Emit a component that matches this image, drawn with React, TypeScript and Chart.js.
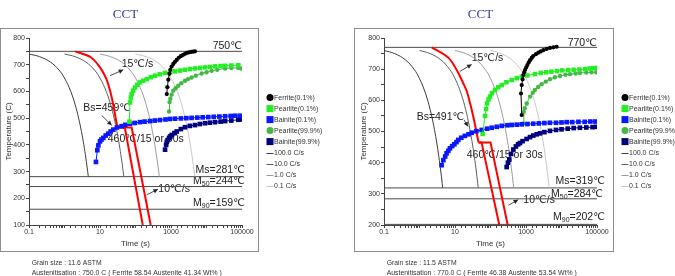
import React, { useEffect, useRef } from 'react';
import { Chart, registerables } from 'chart.js';

Chart.register(...registerables);

const FONT = "'Liberation Sans', Arial, 'DejaVu Sans', sans-serif";
const SERIF = "'Liberation Serif', 'Times New Roman', 'DejaVu Serif', serif";

// ---------------- shared labels ----------------
const TITLE = 'CCT';
const X_TITLE = 'Time (s)';
const Y_TITLE = 'Temperature (C)';
const X_TICK_LABELS = [0.1, 10, 1000, 100000];
const LEGEND_LABELS = ['Ferrite(0.1%)', 'Pearlite(0.1%)', 'Bainite(0.1%)', 'Pearlite(99.9%)', 'Bainite(99.9%)', '100.0 C/s', '10.0 C/s', '1.0 C/s', '0.1 C/s'];

// ---------------- LEFT panel (750 °C) ----------------
const L_Y_RANGE = [100, 800];
const L_AUST = 750;
const L_MS = 281;
const L_M50 = 244;
const L_M90 = 159;
const L_COOL_T = [740, 730, 710, 680, 650, 600, 550, 500, 450, 400, 350, 300, 281];
const L_COOL_100 = [0.1, 0.2, 0.4, 0.7, 1.0, 1.5, 2.0, 2.5, 3.0, 3.5, 4.0, 4.5, 4.69];
const L_COOL_10 = [1, 2, 4, 7, 10, 15, 20, 25, 30, 35, 40, 45, 46.9];
const L_COOL_1 = [10, 20, 40, 70, 100, 150, 200, 250, 300, 350, 400, 450, 469];
const L_COOL_01 = [100, 200, 400, 700, 1000, 1500, 2000, 2500, 3000, 3500, 4000, 4500, 4690];
const L_RED_t = [2, 5.5, 10, 15, 19, 22, 26, 29.5, 32.5];
const L_RED_T = [750, 728, 690, 648, 605, 570, 520, 480, 465];
const L_RED_A_t = [32.5, 50, 160];
const L_RED_A_T = [465, 465, 100];
const L_RED_B_t = [32.5, 78, 268];
const L_RED_B_T = [465, 465, 100];
const L_FER_t = [760, 790, 840, 900, 960, 1040, 1160, 1300, 1450, 1650, 1900, 2200, 2500, 2800, 3200, 3700, 4200, 4740];
const L_FER_T = [590, 616, 644, 666, 681, 693, 703, 711, 718, 726, 732, 737, 741, 744, 746, 748, 749, 750];
const L_PER01_t = [67, 70, 74, 78, 86, 97, 112, 134, 165, 207, 270, 355, 480, 678, 950, 1300, 1800, 2460, 3400, 4740, 6500, 9100, 12500, 17500, 25000, 33500, 50000, 78700];
const L_PER01_T = [487, 559, 577, 590, 603, 615, 625, 634, 640, 646, 653, 659, 664, 669, 672, 675, 678, 681, 684, 686, 688, 690, 692, 694, 695, 696, 697, 698];
const L_BAI01_t = [7.7, 8.4, 9.0, 10, 11, 12.4, 14.5, 17.1, 20, 23.7, 30, 40.6, 52, 70, 95, 134, 180, 257, 350, 490, 700, 935, 1300, 1900, 2700, 3800, 5500, 7800, 11200, 16000, 23000, 33400, 48000, 65000, 90000];
const L_BAI01_T = [336, 380, 398, 413, 420, 426, 435, 442, 450, 457, 465, 470, 475, 479, 482, 485, 487, 489, 491, 493, 495, 497, 498, 499, 500, 501, 502, 503, 504, 505, 506, 507, 508, 509, 509];
const L_PER999_t = [880, 910, 960, 1040, 1160, 1350, 1600, 1950, 2480, 3000, 3800, 5000, 7300, 10000, 14000, 20000, 33500, 50000, 78700, 95000];
const L_PER999_T = [525, 560, 573, 588, 603, 612, 621, 631, 640, 646, 652, 659, 667, 672, 677, 681, 686, 688, 688, 686];
const L_BAI999_t = [680, 730, 760, 806, 880, 960, 1050, 1250, 1450, 1900, 2480, 3400, 4740, 6500, 9080, 12500, 17400, 25000, 33400, 50000, 78700, 95000];
const L_BAI999_T = [382, 400, 411, 418, 425, 431, 437, 444, 450, 459, 466, 471, 474, 478, 481, 483, 485, 487, 489, 491, 494, 495];
const L_NOTES = ['Grain size : 11.6 ASTM', 'Austenitisation : 750.0 C ( Ferrite 58.54 Austenite 41.34 Wt% )'];

// ---------------- RIGHT panel (770 °C) ----------------
const R_Y_RANGE = [200, 800];
const R_AUST = 770;
const R_MS = 319;
const R_M50 = 284;
const R_M90 = 202;
const R_COOL_T = [760, 750, 730, 700, 670, 620, 570, 520, 470, 420, 370, 319];
const R_COOL_100 = [0.1, 0.2, 0.4, 0.7, 1, 1.5, 2, 2.5, 3, 3.5, 4, 4.51];
const R_COOL_10 = [1, 2, 4, 7, 10, 15, 20, 25, 30, 35, 40, 45.1];
const R_COOL_1 = [10, 20, 40, 70, 100, 150, 200, 250, 300, 350, 400, 451];
const R_COOL_01 = [100, 200, 400, 700, 1000, 1500, 2000, 2500, 3000, 3500, 4000, 4510];
const R_RED_t = [2.2, 6.5, 12.4, 17, 21.4, 26.4, 32.7, 40, 46];
const R_RED_T = [770, 737, 688, 655, 630, 592, 548, 500, 465];
const R_RED_A_t = [46, 56, 177];
const R_RED_A_T = [465, 465, 200];
const R_RED_B_t = [46, 100, 305];
const R_RED_B_T = [465, 465, 200];
const R_FER_t = [757, 723, 757, 800, 840, 890, 937, 1010, 1090, 1190, 1300, 1450, 1600, 1900, 2220, 2600, 3070, 3800, 4740, 5900, 7300];
const R_FER_T = [553, 622, 649, 667, 681, 690, 697, 705, 713, 721, 729, 736, 742, 748, 753, 757, 761, 765, 768, 770, 772];
const R_PER01_t = [60, 70, 75, 80, 88, 97, 110, 134, 165, 207, 280, 396, 550, 760, 1100, 1780, 2600, 3700, 5200, 7500, 10500, 15500, 22000, 32000, 46000, 62000, 79000, 95000];
const R_PER01_T = [492, 550, 572, 590, 603, 612, 623, 633, 642, 649, 658, 665, 671, 676, 680, 684, 688, 690, 692, 694, 696, 697, 698, 699, 700, 702, 703, 704];
const R_BAI01_t = [4.2, 4.7, 5.3, 5.8, 6.5, 7.2, 8.3, 9.6, 11, 12.4, 15, 19, 24, 29.5, 40, 56.5, 80, 108, 150, 207, 300, 396, 550, 757, 1100, 1600, 2300, 3300, 4700, 7000, 10000, 14000, 20000, 30000, 45000, 65000, 90000];
const R_BAI01_T = [392, 408, 420, 430, 438, 446, 453, 459, 466, 473, 480, 486, 491, 496, 501, 505, 509, 512, 515, 518, 520, 521, 522, 523, 524, 525, 526, 527, 528, 528, 529, 530, 530, 531, 531, 532, 532];
const R_PER999_t = [840, 870, 920, 1050, 1300, 1550, 1780, 2200, 2750, 3600, 4740, 6500, 9080, 13000, 17400, 25000, 33200, 50000, 70000, 95000];
const R_PER999_T = [526, 563, 575, 590, 612, 624, 633, 643, 652, 660, 668, 674, 678, 682, 684, 686, 688, 689, 690, 690];
const R_BAI999_t = [285, 310, 339, 380, 440, 520, 600, 677, 800, 1040, 1300, 1600, 2000, 2480, 3300, 4740, 7000, 10000, 15000, 22000, 33000, 50000, 75000, 95000];
const R_BAI999_T = [386, 400, 410, 428, 442, 452, 459, 463, 469, 476, 482, 487, 491, 494, 498, 502, 505, 507, 509, 511, 512, 513, 514, 515];
const R_NOTES = ['Grain size : 11.5 ASTM', 'Austenitisation : 770.0 C ( Ferrite 46.38 Austenite 53.54 Wt% )'];

// ---------------- styles ----------------
const C = {
  ferrite: '#000000',
  per01: '#22ee22',
  bai01: '#0a18ff',
  per999: '#44b844',
  bai999: '#00007f',
  c100: '#3c3c3c',
  c10: '#5e5e5e',
  c1: '#9c9c9c',
  c01: '#c8c8c8',
  red: '#ff0000',
  hline: '#4a4a4a',
  axis: '#444444',
  text: '#222222',
};

type Part = { s: string; sub?: boolean };
type Ann = { parts: Part[]; t: number; T: number; align?: 'left' | 'right'; dx?: number; arrow?: [number, number, number, number] };

const pts = (ts: number[], Ts: number[]) => ts.map((t, i) => ({ x: t, y: Ts[i] }));
const hl = (T: number) => [{ x: 0.1, y: T }, { x: 100000, y: T }];

interface PanelSpec {
  yRange: number[];
  aust: number; ms: number; m50: number; m90: number;
  coolT: number[]; cool: number[][];
  redT: number[]; redt: number[]; redAt: number[]; redAT: number[]; redBt: number[]; redBT: number[];
  fer: [number[], number[]]; per01: [number[], number[]]; bai01: [number[], number[]]; per999: [number[], number[]]; bai999: [number[], number[]];
  notes: string[];
  anns: Ann[];
  yAxisW: number; areaRight: number; boxLeft: number;
}

const fmtT = (v: number) => `${v}℃`;

const LEFT: PanelSpec = {
  yRange: L_Y_RANGE, aust: L_AUST, ms: L_MS, m50: L_M50, m90: L_M90,
  coolT: L_COOL_T, cool: [L_COOL_100, L_COOL_10, L_COOL_1, L_COOL_01],
  redT: L_RED_T, redt: L_RED_t, redAt: L_RED_A_t, redAT: L_RED_A_T, redBt: L_RED_B_t, redBT: L_RED_B_T,
  fer: [L_FER_t, L_FER_T], per01: [L_PER01_t, L_PER01_T], bai01: [L_BAI01_t, L_BAI01_T], per999: [L_PER999_t, L_PER999_T], bai999: [L_BAI999_t, L_BAI999_T],
  notes: L_NOTES,
  anns: [
    { parts: [{ s: fmtT(L_AUST) }], t: 100000, T: 770, align: 'right', dx: 0 },
    { parts: [{ s: '15℃/s' }], t: 40.8, T: 702, arrow: [19.1, 659, 45.3, 681] },
    { parts: [{ s: 'Bs=459℃' }], t: 3.39, T: 539, arrow: [11.2, 510, 21.4, 473] },
    { parts: [{ s: '460℃/15 or 30s' }], t: 16.5, T: 423 },
    { parts: [{ s: '10℃/s' }], t: 439, T: 235, arrow: [207, 213, 430, 234] },
    { parts: [{ s: 'Ms=' + fmtT(L_MS) }], t: 100000, T: 306, align: 'right', dx: 3 },
    { parts: [{ s: 'M' }, { s: '50', sub: true }, { s: '=' + fmtT(L_M50) }], t: 100000, T: 264, align: 'right', dx: 3 },
    { parts: [{ s: 'M' }, { s: '90', sub: true }, { s: '=' + fmtT(L_M90) }], t: 100000, T: 182, align: 'right', dx: 3 },
  ],
  yAxisW: 29, areaRight: 242, boxLeft: 29,
};

const RIGHT: PanelSpec = {
  yRange: R_Y_RANGE, aust: R_AUST, ms: R_MS, m50: R_M50, m90: R_M90,
  coolT: R_COOL_T, cool: [R_COOL_100, R_COOL_10, R_COOL_1, R_COOL_01],
  redT: R_RED_T, redt: R_RED_t, redAt: R_RED_A_t, redAT: R_RED_A_T, redBt: R_RED_B_t, redBT: R_RED_B_T,
  fer: [R_FER_t, R_FER_T], per01: [R_PER01_t, R_PER01_T], bai01: [R_BAI01_t, R_BAI01_T], per999: [R_PER999_t, R_PER999_T], bai999: [R_BAI999_t, R_BAI999_T],
  notes: R_NOTES,
  anns: [
    { parts: [{ s: fmtT(R_AUST) }], t: 100000, T: 784, align: 'right', dx: 0 },
    { parts: [{ s: '15℃/s' }], t: 29.5, T: 737, arrow: [13.8, 693, 29.5, 715] },
    { parts: [{ s: 'Bs=491℃' }], t: 0.83, T: 545, arrow: [18, 537, 23.2, 516] },
    { parts: [{ s: '460℃/15 or 30s' }], t: 21.4, T: 425 },
    { parts: [{ s: '10℃/s' }], t: 840, T: 281, arrow: [316, 263, 600, 281] },
    { parts: [{ s: 'Ms=' + fmtT(R_MS) }], t: 100000, T: 340, align: 'right', dx: 8 },
    { parts: [{ s: 'M' }, { s: '50', sub: true }, { s: '=' + fmtT(R_M50) }], t: 100000, T: 300, align: 'right', dx: 6 },
    { parts: [{ s: 'M' }, { s: '90', sub: true }, { s: '=' + fmtT(R_M90) }], t: 100000, T: 225, align: 'right', dx: 8 },
  ],
  yAxisW: 44, areaRight: 257, boxLeft: 30,
};

function drawRich(ctx: CanvasRenderingContext2D, parts: Part[], x: number, y: number, align: 'left' | 'right') {
  const fontOf = (p: Part) => `${p.sub ? 7 : 10.5}px ${FONT}`;
  let total = 0;
  for (const p of parts) { ctx.font = fontOf(p); total += ctx.measureText(p.s).width; }
  let cx = align === 'right' ? x - total : x;
  ctx.textAlign = 'left';
  ctx.textBaseline = 'middle';
  for (const p of parts) {
    ctx.font = fontOf(p);
    ctx.fillText(p.s, cx, p.sub ? y + 3 : y);
    cx += ctx.measureText(p.s).width;
  }
}

function makePlugin(p: PanelSpec) {
  return {
    id: 'cctDecor',
    beforeDraw(chart: any) {
      const { ctx, chartArea: a } = chart;
      ctx.save();
      ctx.fillStyle = '#ffffff';
      ctx.fillRect(0, 0, chart.width, chart.height);
      // frame
      ctx.strokeStyle = '#8c8c8c';
      ctx.lineWidth = 1;
      const x0 = Math.round(a.left - p.boxLeft) + 0.5;
      const y0 = Math.round(a.top - 10) + 0.5;
      const x1 = Math.round(a.right + 16) + 0.5;
      const y1 = Math.round(a.bottom + 26) + 0.5;
      ctx.strokeRect(x0, y0, x1 - x0, y1 - y0);
      // title
      ctx.fillStyle = '#3838a8';
      ctx.font = `13px ${SERIF}`;
      ctx.textAlign = 'center';
      ctx.textBaseline = 'middle';
      ctx.fillText(TITLE, a.left + 96.5, a.top - 23);
      // notes
      ctx.fillStyle = '#333333';
      ctx.font = `7px ${FONT}`;
      ctx.textAlign = 'left';
      p.notes.forEach((n, i) => ctx.fillText(n, a.left + 2.7, a.bottom + 37.7 + i * 10, i === 1 ? 190 : 70));
      // axis titles
      ctx.font = `8px ${FONT}`;
      ctx.textAlign = 'center';
      ctx.fillText(X_TITLE, (a.left + a.right) / 2, a.bottom + 18.3);
      ctx.save();
      ctx.translate(a.left - 20.7, (a.top + a.bottom) / 2);
      ctx.rotate(-Math.PI / 2);
      ctx.fillText(Y_TITLE, 0, 0);
      ctx.restore();
      ctx.restore();
    },
    beforeDatasetsDraw(chart: any) {
      const { ctx } = chart;
      const xs = chart.scales.x;
      const ys = chart.scales.y;
      ctx.save();
      ctx.fillStyle = C.text;
      ctx.strokeStyle = C.text;
      for (const an of p.anns) {
        const x = xs.getPixelForValue(an.t) + (an.dx || 0);
        const y = ys.getPixelForValue(an.T);
        drawRich(ctx, an.parts, x, y, an.align || 'left');
        if (an.arrow) {
          const ax0 = xs.getPixelForValue(an.arrow[0]);
          const ay0 = ys.getPixelForValue(an.arrow[1]);
          const ax1 = xs.getPixelForValue(an.arrow[2]);
          const ay1 = ys.getPixelForValue(an.arrow[3]);
          ctx.lineWidth = 0.8;
          ctx.beginPath();
          ctx.moveTo(ax0, ay0);
          ctx.lineTo(ax1, ay1);
          ctx.stroke();
          const ang = Math.atan2(ay1 - ay0, ax1 - ax0);
          const L = 4.5, W = 2.3;
          ctx.beginPath();
          ctx.moveTo(ax1, ay1);
          ctx.lineTo(ax1 - L * Math.cos(ang) + W * Math.sin(ang), ay1 - L * Math.sin(ang) - W * Math.cos(ang));
          ctx.lineTo(ax1 - L * Math.cos(ang) - W * Math.sin(ang), ay1 - L * Math.sin(ang) + W * Math.cos(ang));
          ctx.closePath();
          ctx.fill();
        }
      }
      ctx.restore();
    },
    afterDraw(chart: any) {
      const { ctx, chartArea: a } = chart;
      const items = chart.data.datasets.filter((d: any) => d.legendKind);
      ctx.save();
      ctx.font = `7px ${FONT}`;
      ctx.textAlign = 'left';
      ctx.textBaseline = 'middle';
      items.forEach((d: any, i: number) => {
        const cy = a.top + 59.6 + i * 11;
        const cx = a.right + 28;
        ctx.fillStyle = d.legendColor;
        ctx.strokeStyle = d.legendColor;
        if (d.legendKind === 'circle') {
          ctx.beginPath();
          ctx.arc(cx, cy, 3.5, 0, Math.PI * 2);
          ctx.fill();
        } else if (d.legendKind === 'square') {
          ctx.fillRect(cx - 3.5, cy - 3.5, 7, 7);
        } else {
          ctx.lineWidth = 1;
          ctx.beginPath();
          ctx.moveTo(cx - 3.5, Math.round(cy) + 0.5);
          ctx.lineTo(cx + 3.5, Math.round(cy) + 0.5);
          ctx.stroke();
        }
        ctx.fillStyle = '#333333';
        ctx.fillText(d.label, a.right + 32, cy);
      });
      ctx.restore();
    },
  };
}

function buildConfig(p: PanelSpec, width: number): any {
  const marker = (label: string, data: [number[], number[]], color: string, style: string, r: number) => ({
    label, data: pts(data[0], data[1]), showLine: true, borderColor: color, backgroundColor: color,
    borderWidth: 1, pointStyle: style, pointRadius: r, pointBorderWidth: 0, pointBackgroundColor: color,
    tension: 0, legendKind: style === 'circle' ? 'circle' : 'square', legendColor: color,
  });
  const curve = (label: string, ts: number[], color: string) => ({
    label, data: pts(ts, p.coolT), showLine: true, borderColor: color, borderWidth: 1, pointRadius: 0,
    tension: 0.4, legendKind: 'line', legendColor: color,
  });
  const plain = (data: any[], color: string, w: number, tension = 0) => ({
    label: '', data, showLine: true, borderColor: color, borderWidth: w, pointRadius: 0, tension,
  });
  const datasets = [
    marker(LEGEND_LABELS[0], p.fer, C.ferrite, 'circle', 2.1),
    marker(LEGEND_LABELS[1], p.per01, C.per01, 'rect', 3.2),
    marker(LEGEND_LABELS[2], p.bai01, C.bai01, 'rect', 3.3),
    marker(LEGEND_LABELS[3], p.per999, C.per999, 'circle', 2.2),
    marker(LEGEND_LABELS[4], p.bai999, C.bai999, 'rect', 3.3),
    plain(pts(p.redt, p.redT), C.red, 2, 0.3),
    plain(pts(p.redAt, p.redAT), C.red, 2),
    plain(pts(p.redBt, p.redBT), C.red, 2),
    curve(LEGEND_LABELS[5], p.cool[0], C.c100),
    curve(LEGEND_LABELS[6], p.cool[1], C.c10),
    curve(LEGEND_LABELS[7], p.cool[2], C.c1),
    curve(LEGEND_LABELS[8], p.cool[3], C.c01),
    plain(hl(p.aust), C.hline, 1),
    plain(hl(p.ms), C.hline, 1),
    plain(hl(p.m50), C.hline, 1),
    plain(hl(p.m90), C.hline, 1),
  ];
  const tickFont = { size: 7, family: FONT };
  return {
    type: 'scatter',
    data: { datasets },
    options: {
      responsive: false,
      animation: false,
      devicePixelRatio: 1,
      events: [],
      layout: { padding: { left: 0, right: width - p.areaRight, top: 38, bottom: 276 - 225 - 12 } },
      plugins: { legend: { display: false }, tooltip: { enabled: false }, title: { display: false } },
      scales: {
        x: {
          type: 'logarithmic', min: 0.1, max: 100000,
          afterFit: (s: any) => { s.height = 12; s.paddingLeft = 0; s.paddingRight = 0; },
          grid: { drawOnChartArea: false, drawTicks: true, tickLength: 3, color: C.axis },
          border: { display: true, color: C.axis, width: 1 },
          ticks: {
            autoSkip: false, maxRotation: 0, minRotation: 0, padding: 0, font: tickFont, color: '#333333',
            callback: (v: any) => {
              const n = Number(v);
              const hit = X_TICK_LABELS.find((q) => Math.abs(Math.log10(n) - Math.log10(q)) < 1e-6);
              return hit === undefined ? '' : String(hit);
            },
          },
        },
        y: {
          type: 'linear', min: p.yRange[0], max: p.yRange[1],
          afterFit: (s: any) => { s.width = p.yAxisW; s.paddingTop = 0; s.paddingBottom = 0; },
          grid: { drawOnChartArea: false, drawTicks: true, tickLength: 3, color: C.axis },
          border: { display: true, color: C.axis, width: 1 },
          ticks: {
            stepSize: 50, padding: 1, font: tickFont, color: '#333333',
            callback: (v: any) => (Number(v) % 100 === 0 ? String(v) : ''),
          },
        },
      },
    },
    plugins: [makePlugin(p)],
  };
}

function CctChart({ panel, left, width }: { panel: PanelSpec; left: number; width: number }) {
  const ref = useRef<HTMLCanvasElement>(null);
  useEffect(() => {
    const chart = new Chart(ref.current as HTMLCanvasElement, buildConfig(panel, width));
    return () => chart.destroy();
  }, [panel, width]);
  return (
    <canvas
      ref={ref}
      width={width}
      height={276}
      style={{ position: 'absolute', left, top: 0, width, height: 276 }}
    />
  );
}

export default function App() {
  return (
    <div style={{ position: 'fixed', left: 0, top: 0, width: 675, height: 276, background: '#ffffff', overflow: 'hidden' }}>
      <CctChart panel={LEFT} left={0} width={340} />
      <CctChart panel={RIGHT} left={340} width={335} />
    </div>
  );
}
